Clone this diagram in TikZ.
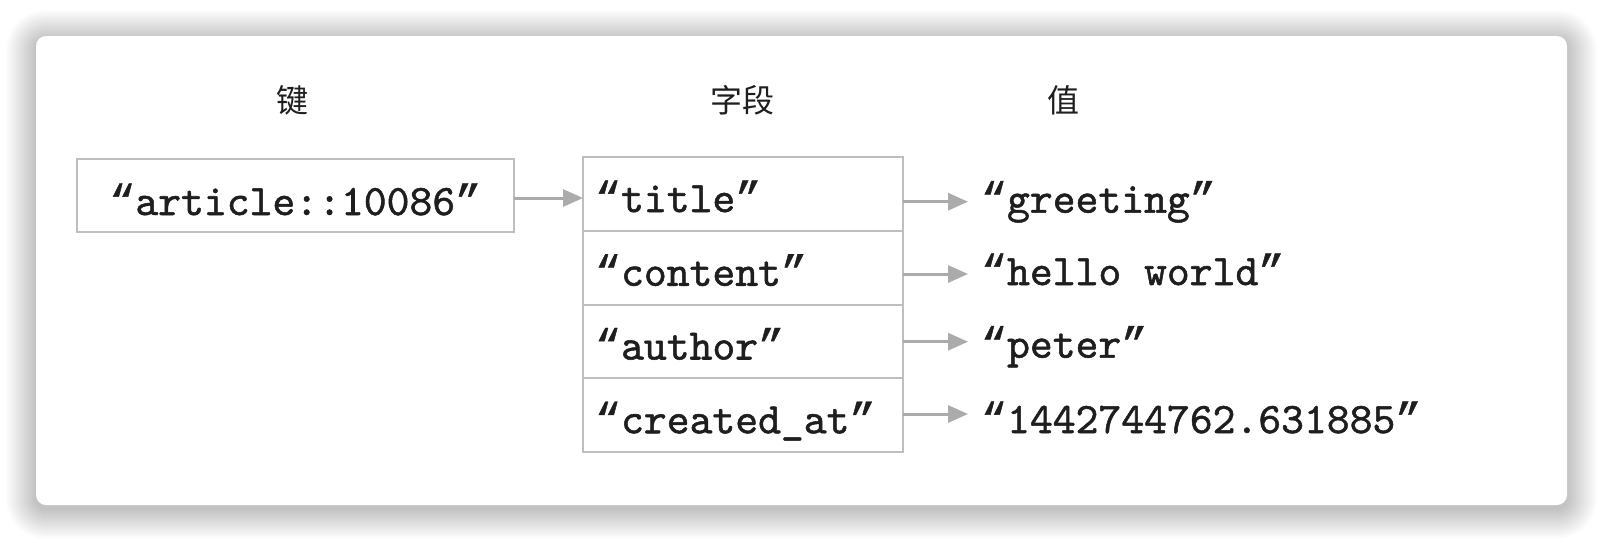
\documentclass[tikz,border=0pt]{standalone}
\usepackage{fontspec}
\newfontfamily\cjk{Noto Sans CJK SC}
\newfontfamily\codefont{lmmono10-regular.otf}[FakeBold=1.2]
\newfontfamily\quotefont{Liberation Mono}[FakeBold=1.0]
\newcommand\oq{{\quotefont “}}
\newcommand\cq{{\quotefont ”}}
\usetikzlibrary{arrows.meta}
\definecolor{boxline}{HTML}{BEBEBE}
\definecolor{arrowgray}{HTML}{ABABAB}
\definecolor{txt}{HTML}{1E1E1E}
\begin{document}
\begin{tikzpicture}[x=1pt,y=-1pt,
  cell/.style={draw=boxline, line width=2pt, inner ysep=0pt, outer sep=0pt,
    font=\fontsize{43.5}{43.5}\selectfont\codefont, text=txt},
  keycell/.style={cell, minimum width=437.3pt, text height=56pt, text depth=17pt, align=center},
  fieldcell/.style={cell, inner xsep=12pt, text width=296pt, align=left,
    text height=55pt, text depth=18.75pt, anchor=north},
  valuetext/.style={inner xsep=13pt, inner ysep=0pt, outer sep=0pt, text depth=6pt,
    anchor=west, font=\fontsize{43.5}{43.5}\selectfont\codefont, text=txt},
  header/.style={font=\fontsize{32}{32}\selectfont\cjk, text=txt, inner sep=0pt},
  arr/.style={draw=arrowgray, line width=3pt,
    -{Triangle[length=20pt,width=17pt]}, arrowgray}
]
\useasboundingbox (0,0) rectangle (1604,542);
\fill[white] (0,0) rectangle (1604,542);
% soft shadow
\foreach \i [evaluate=\i as \r using 10+\i] in {1,...,30} {
  \fill[black, opacity=0.006, rounded corners=\r pt]
    (36-\i, 40-\i) rectangle (1567+\i, 509+\i);
}
% card
\fill[white, rounded corners=10pt] (36,36) rectangle (1567,505);

% headers
\node[header] (hkey) at (292,100) {键};
\node[header] (hfield) at (742,100) {字段};
\node[header] (hvalue) at (1063,100) {值};

% key
\node[keycell] (key) at (295.3,195.5) {\oq article::10086\cq};

% fields
\node[fieldcell] (f1) at (743,157) {\oq title\cq};
\node[fieldcell] (f2) at (f1.south) {\oq content\cq};
\node[fieldcell] (f3) at (f2.south) {\oq author\cq};
\node[fieldcell] (f4) at (f3.south) {\oq created\_at\cq};

% values
\node[valuetext, text height=28pt] (v1) at (968,201.7) {\oq greeting\cq};
\node[valuetext, text height=28pt] (v2) at (968,274) {\oq hello world\cq};
\node[valuetext, text height=38pt] (v3) at (968,341.7) {\oq peter\cq};
\node[valuetext, text height=44pt] (v4) at (968,414) {\oq 1442744762.631885\cq};

% connectors
\draw[arr] ([yshift=-2.5pt]key.east) -- ([yshift=-2.5pt]key.east -| f1.west);
\draw[arr] (f1.east |- v1.west) -- (v1.west);
\draw[arr] (f2.east |- v2.west) -- (v2.west);
\draw[arr] (f3.east |- v3.west) -- (v3.west);
\draw[arr] (f4.east |- v4.west) -- (v4.west);
\end{tikzpicture}
\end{document}
